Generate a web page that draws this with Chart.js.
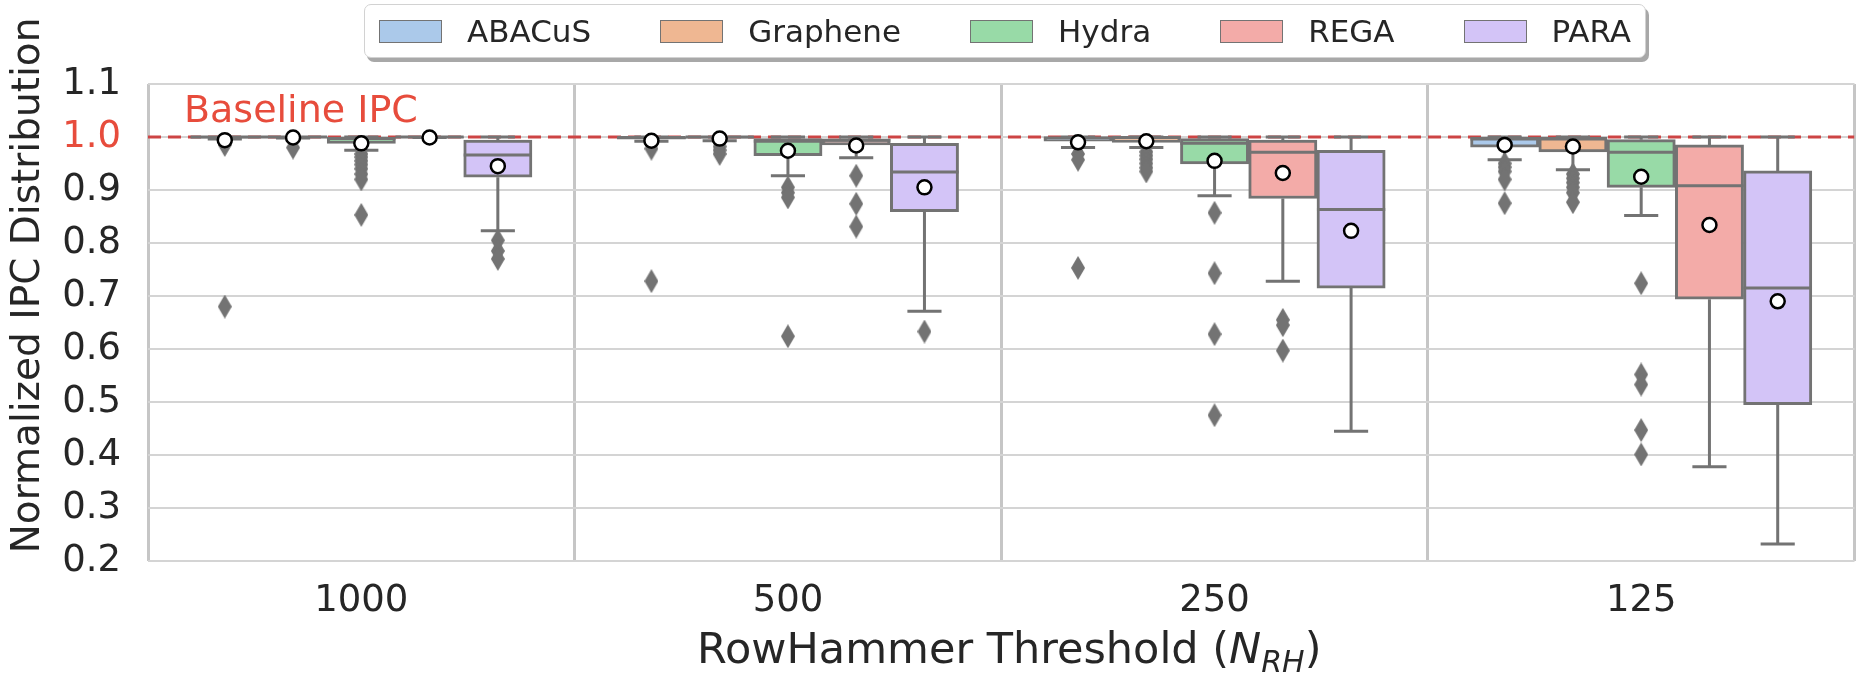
<!DOCTYPE html>
<html>
<head>
<meta charset="utf-8">
<script src="https://cdn.jsdelivr.net/npm/chart.js@4.4.1/dist/chart.umd.min.js"></script>
<style>
  html, body { margin: 0; padding: 0; background: #fff; }
  #wrap { position: relative; width: 1864px; height: 677px; }
  #legend {
    position: absolute; left: 364px; top: 4px; width: 1282px; height: 54px;
    box-sizing: border-box; border: 1.5px solid #d2d2d2; border-radius: 7px;
    box-shadow: 3px 4px 0 #a8a8a8; background: #fff;
    display: flex; align-items: center; justify-content: space-between;
    padding: 0 14px; font-family: "DejaVu Sans"; font-size: 31px; color: #262626;
  }
  .item { display: flex; align-items: center; }
  .sw { width: 63px; height: 23px; box-sizing: border-box; border: 1.5px solid #737373; margin-right: 25px; }
</style>
</head>
<body>
<div id="wrap">
  <canvas id="grafico" width="1864" height="677"></canvas>
  <div id="legend"></div>
</div>
<script>
const thresholds = ['1000', '500', '250', '125'];
const mechanisms = ['ABACuS', 'Graphene', 'Hydra', 'REGA', 'PARA'];

// one row per mechanism, one column per threshold (1000, 500, 250, 125)
const q1 = [
  [0.998, 0.996, 0.992, 0.981],
  [0.999, 0.998, 0.990, 0.972],
  [0.988, 0.965, 0.949, 0.905],
  [0.999, 0.985, 0.884, 0.694],
  [0.924, 0.859, 0.715, 0.495]
];
const medians = [
  [1.000, 0.999, 0.998, 0.996],
  [1.000, 1.000, 0.999, 0.996],
  [0.997, 0.992, 0.988, 0.971],
  [1.000, 0.994, 0.971, 0.908],
  [0.966, 0.934, 0.863, 0.715]
];
const q3 = [
  [1.000, 1.000, 1.000, 1.000],
  [1.000, 1.000, 1.000, 1.000],
  [1.000, 0.997, 0.997, 0.995],
  [1.000, 0.996, 0.994, 0.985],
  [0.994, 0.988, 0.975, 0.936]
];
const whiskerLow = [
  [0.996, 0.992, 0.980, 0.957],
  [0.998, 0.993, 0.980, 0.938],
  [0.975, 0.927, 0.889, 0.852],
  [0.999, 0.961, 0.728, 0.378],
  [0.823, 0.671, 0.445, 0.232]
];
const whiskerHigh = [
  [1.0, 1.0, 1.0, 1.0],
  [1.0, 1.0, 1.0, 1.0],
  [1.0, 1.0, 1.0, 1.0],
  [1.0, 1.0, 1.0, 1.0],
  [1.0, 1.0, 1.0, 1.0]
];
const means = [
  [0.994, 0.993, 0.990, 0.985],
  [0.999, 0.997, 0.992, 0.982],
  [0.988, 0.974, 0.955, 0.925],
  [0.999, 0.984, 0.932, 0.834],
  [0.945, 0.905, 0.823, 0.690]
];
const outliers = [
  [[0.985, 0.680], [0.978, 0.728], [0.968, 0.957, 0.753], [0.950, 0.943, 0.935, 0.920, 0.875]],
  [[0.980], [0.982, 0.975, 0.968], [0.972, 0.965, 0.958, 0.950, 0.942, 0.935], [0.930, 0.922, 0.914, 0.905, 0.895, 0.877]],
  [[0.968, 0.962, 0.955, 0.948, 0.940, 0.930, 0.920, 0.853], [0.905, 0.895, 0.886, 0.624], [0.857, 0.743, 0.628, 0.475], [0.724, 0.552, 0.533, 0.447, 0.401]],
  [[], [0.927, 0.874, 0.831], [0.655, 0.645, 0.597], []],
  [[0.805, 0.785, 0.770], [0.633], [], []]
];
const baseline = 1.0;

const cores = ['#abc9ea', '#efb792', '#98daa7', '#f3aba8', '#d3c4f7'];
const cinza = '#737373';
const vermelho = '#e74c3c';
const fonte = '"DejaVu Sans", sans-serif';

// posicao de cada caixa no eixo x (grupo j, mecanismo i)
const hueX = (i, j) => j + (i - 2) * 0.16;

// losango fino das amostras fora dos bigodes
const losango = document.createElement('canvas');
losango.width = 14; losango.height = 24;
(function () {
  const c = losango.getContext('2d');
  c.fillStyle = cinza;
  c.beginPath();
  c.moveTo(7, 0); c.lineTo(14, 12); c.lineTo(7, 24); c.lineTo(0, 12);
  c.closePath(); c.fill();
})();

const caixas = mechanisms.map((m, i) => ({
  type: 'bar',
  label: m,
  data: q1[i].map((v, j) => ({ x: hueX(i, j), y: [v, q3[i][j]] })),
  backgroundColor: cores[i],
  borderColor: cinza,
  borderWidth: 3,
  borderSkipped: false,
  grouped: false,
  categoryPercentage: 1.0,
  barPercentage: 1.0,
  order: 3
}));

const pontosFora = mechanisms.map((m, i) => ({
  type: 'scatter',
  label: m + ' outliers',
  data: outliers[i].flatMap((lista, j) => lista.map(v => ({ x: hueX(i, j), y: v }))),
  pointStyle: losango,
  order: 1
}));

const medias = {
  type: 'scatter',
  label: 'Mean',
  data: mechanisms.flatMap((m, i) => means[i].map((v, j) => ({ x: hueX(i, j), y: v }))),
  pointStyle: 'circle',
  pointRadius: 7,
  backgroundColor: '#ffffff',
  borderColor: '#000000',
  borderWidth: 2.5,
  order: 0
};

const linhaBase = {
  type: 'line',
  label: 'Baseline IPC',
  data: [{ x: -0.5, y: baseline }, { x: 3.5, y: baseline }],
  borderColor: '#cd4444',
  borderWidth: 3,
  borderDash: [13, 7],
  pointRadius: 0,
  order: 4
};

// bigodes, tampas e medianas por cima de cada caixa
const detalhesCaixa = {
  id: 'detalhesCaixa',
  afterDatasetDraw(chart, args) {
    if (args.meta.type !== 'bar') return;
    const i = args.index;
    const y = chart.scales.y;
    const ctx = chart.ctx;
    ctx.save();
    ctx.strokeStyle = cinza;
    ctx.lineWidth = 3;
    args.meta.data.forEach((barra, j) => {
      const x = barra.x, w = barra.width;
      const yq1 = y.getPixelForValue(q1[i][j]);
      const yq3 = y.getPixelForValue(q3[i][j]);
      const ylo = y.getPixelForValue(whiskerLow[i][j]);
      const yhi = y.getPixelForValue(whiskerHigh[i][j]);
      const ymed = y.getPixelForValue(medians[i][j]);
      ctx.beginPath();
      ctx.moveTo(x, yq1); ctx.lineTo(x, ylo);
      ctx.moveTo(x - w / 4, ylo); ctx.lineTo(x + w / 4, ylo);
      ctx.moveTo(x, yq3); ctx.lineTo(x, yhi);
      ctx.moveTo(x - w / 4, yhi); ctx.lineTo(x + w / 4, yhi);
      ctx.moveTo(x - w / 2, ymed); ctx.lineTo(x + w / 2, ymed);
      ctx.stroke();
    });
    ctx.restore();
  },
  afterDraw(chart) {
    const ctx = chart.ctx;
    const area = chart.chartArea;
    const y = chart.scales.y;
    ctx.save();

    // texto da linha de base
    ctx.fillStyle = vermelho;
    ctx.font = '38px ' + fonte;
    ctx.textAlign = 'left';
    ctx.textBaseline = 'alphabetic';
    ctx.fillText('Baseline IPC', area.left + 36, y.getPixelForValue(baseline) - 15);

    // titulo do eixo y
    ctx.fillStyle = '#262626';
    ctx.translate(29, (area.top + area.bottom) / 2 - 37);
    ctx.rotate(-Math.PI / 2);
    ctx.textAlign = 'center';
    ctx.textBaseline = 'middle';
    ctx.font = '39px ' + fonte;
    ctx.fillText('Normalized IPC Distribution', 0, 0);
    ctx.setTransform(1, 0, 0, 1, 0, 0);

    // titulo do eixo x com N_RH em italico
    const partes = [
      { t: 'RowHammer Threshold (', f: '43px ' + fonte, dy: 0 },
      { t: 'N', f: 'italic 43px ' + fonte, dy: 0 },
      { t: 'RH', f: 'italic 30px ' + fonte, dy: 9 },
      { t: ')', f: '43px ' + fonte, dy: 0 }
    ];
    let total = 0;
    partes.forEach(p => { ctx.font = p.f; p.w = ctx.measureText(p.t).width; total += p.w; });
    let x = (area.left + area.right) / 2 + 8 - total / 2;
    ctx.textAlign = 'left';
    ctx.textBaseline = 'alphabetic';
    partes.forEach(p => {
      ctx.font = p.f;
      ctx.fillText(p.t, x, 663 + p.dy);
      x += p.w;
    });
    ctx.restore();
  }
};

const grafico = new Chart(document.getElementById('grafico').getContext('2d'), {
  type: 'bar',
  data: {
    datasets: [...caixas, linhaBase, ...pontosFora, medias]
  },
  options: {
    responsive: false,
    animation: false,
    events: [],
    layout: { padding: { top: 84, right: 6, left: 0, bottom: 0 } },
    plugins: {
      legend: { display: false },
      tooltip: { enabled: false }
    },
    scales: {
      x: {
        type: 'linear',
        min: -0.5,
        max: 3.5,
        offset: false,
        afterBuildTicks: s => {
          s.ticks = [-0.5, 0, 0.5, 1, 1.5, 2, 2.5, 3, 3.5].map(v => ({ value: v }));
        },
        grid: {
          offset: false,
          drawTicks: false,
          lineWidth: 3,
          color: c => Number.isInteger(c.tick.value) ? 'rgba(0,0,0,0)' : '#c6c6c6'
        },
        border: { display: false },
        ticks: {
          autoSkip: false,
          maxRotation: 0,
          font: { family: fonte, size: 37 },
          color: '#262626',
          padding: 18,
          callback: v => Number.isInteger(v) ? thresholds[v] : ''
        },
        afterFit: s => { s.height = 116; s.paddingLeft = 0; s.paddingRight = 0; }
      },
      y: {
        min: 0.2,
        max: 1.1,
        grid: { color: '#d4d4d4', lineWidth: 2, drawTicks: false },
        border: { display: false },
        ticks: {
          stepSize: 0.1,
          padding: 27,
          font: { family: fonte, size: 37 },
          color: c => Math.abs(c.tick.value - baseline) < 1e-6 ? vermelho : '#262626',
          callback: v => Number(v).toFixed(1)
        },
        afterFit: s => { s.width = 148; s.paddingTop = 0; s.paddingBottom = 0; }
      }
    }
  },
  plugins: [detalhesCaixa]
});

// legenda em HTML a partir das caixas
const legenda = document.getElementById('legend');
caixas.forEach(ds => {
  const item = document.createElement('div');
  item.className = 'item';
  const sw = document.createElement('span');
  sw.className = 'sw';
  sw.style.background = ds.backgroundColor;
  const txt = document.createElement('span');
  txt.textContent = ds.label;
  item.appendChild(sw);
  item.appendChild(txt);
  legenda.appendChild(item);
});
</script>
</body>
</html>
